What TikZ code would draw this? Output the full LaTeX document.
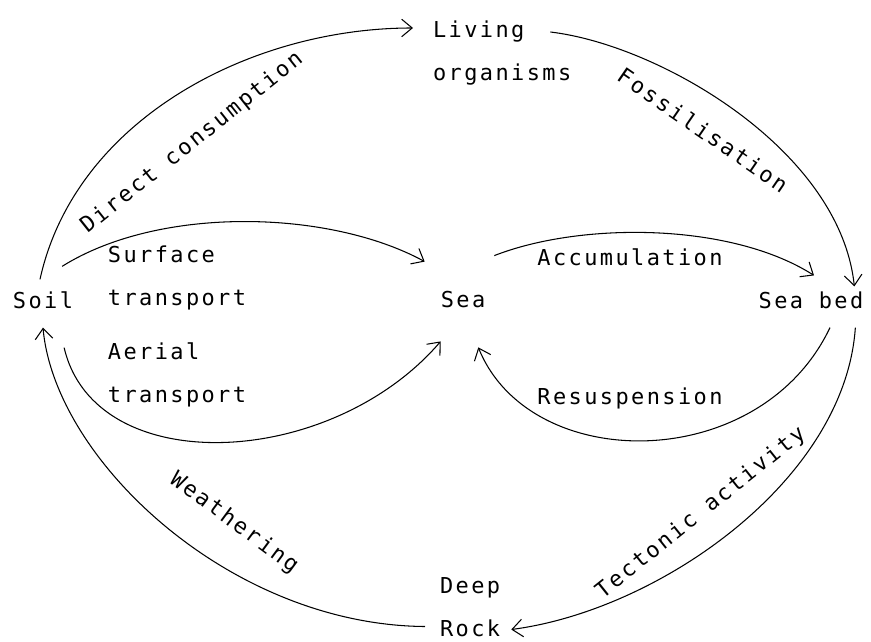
\documentclass[tikz,border=0pt]{standalone}
\usepackage{fontspec}
\usepackage{tikz}
\usetikzlibrary{arrows.meta}
\setmonofont[LetterSpace=11]{DejaVu Sans Mono}
\newcommand{\cycleFont}[0]{\fontsize{15.6}{30.6}\selectfont\ttfamily}
\newcommand{\flowWidth}[0]{0.75pt}

\begin{document}
\begin{tikzpicture}[x=0.025cm, y=-0.025cm, font=\cycleFont]
  \tikzset{place/.style={inner sep=2pt, align=left},
    flow/.style={->, line width=\flowWidth},
    >={Straight Barb[length=7.5pt,width=12.5pt]}}
  \useasboundingbox (0,0) rectangle (871,642);
  % reservoirs
  \node[place] (soil) at (43,300) {Soil};
  \node[place] (sea) at (463,300) {Sea};
  \node[place] (seabed) at (811,300) {Sea bed};
  \node[place, anchor=north west] (living) at (430,18) {Living\\organisms};
  \node[place, anchor=north west] (deeprock) at (437,574) {Deep\\Rock};
  % fluxes
  \draw[flow] ([shift={(-3,-9)}]soil.north) .. controls (75,120) and (250,28) .. ([shift={(-17,10)}]living.north west);
  \draw[flow] ([shift={(-24,14)}]living.north east) .. controls (660,45) and (840,150) .. ([shift={(-12,-2)}]seabed.north east);
  \draw[flow] ([shift={(-14,-22)}]soil.north east) .. controls (160,205) and (330,210) .. ([shift={(-13,-27)}]sea.north west);
  \draw[flow] ([shift={(-12,36)}]soil.south east) .. controls (95,480) and (330,470) .. ([shift={(3,30)}]sea.south west);
  \draw[flow] ([shift={(6,-33)}]sea.north east) .. controls (580,222) and (730,222) .. ([shift={(3,-13)}]seabed.north);
  \draw[flow] ([shift={(19,16)}]seabed.south) .. controls (760,475) and (530,475) .. ([shift={(-10,36)}]sea.south east);
  \draw[flow] ([shift={(-11,16)}]seabed.south east) .. controls (845,480) and (660,610) .. ([shift={(8,-10)}]deeprock.south east);
  \draw[flow] ([shift={(-12,-13)}]deeprock.south west) .. controls (230,625) and (55,460) .. ([shift={(0,16)}]soil.south);
  % labels
  \node[place] (surface) at (177,278) {Surface\\transport};
  \node[place] (aerial) at (177,375) {Aerial\\transport};
  \node[place] (accum) at (630,257) {Accumulation};
  \node[place] (resusp) at (630,398) {Resuspension};
  \node[place, rotate=38.5] (direct) at (192,143) {Direct consumption};
  \node[place, rotate=-34.5] (fossil) at (703,130) {Fossilisation};
  \node[place, rotate=-36.5] (weather) at (234,523) {Weathering};
  \node[place, rotate=38.6] (tecto) at (701,513) {Tectonic activity};
\end{tikzpicture}
\end{document}
